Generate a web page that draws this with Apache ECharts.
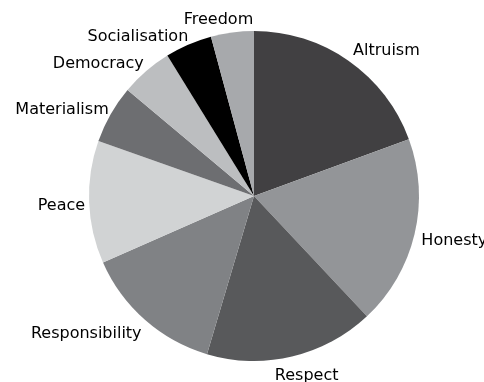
<!DOCTYPE html>
<html>
<head>
    <meta charset="utf-8">
    <title>Values pie</title>
    <script type="text/javascript" src="https://cdn.jsdelivr.net/npm/echarts@6/dist/echarts.min.js"></script>
    <style type="text/css">
        html, body { margin: 0; padding: 0; background: #fff; }
        #main { width: 484px; height: 382px; }
    </style>
</head>
<body>
<div id="main"></div>
<script type="text/javascript">
    // values (share of the whole, %)
    let categories = ['Altruism', 'Honesty', 'Respect', 'Responsibility', 'Peace',
        'Materialism', 'Democracy', 'Socialisation', 'Freedom'];
    let values = [19.4, 18.6, 16.6, 13.8, 12.0, 5.7, 5.1, 4.6, 4.2];
    let colors = ['#414042', '#939598', '#58595b', '#808285', '#d1d3d4',
        '#6d6e71', '#bcbec0', '#000000', '#a7a9ac'];

    // nudges for the labels so they sit where the original put them
    let labelShift = {
        'Altruism': [-5, -3],
        'Honesty': [-6, 5],
        'Respect': [-24, 11],
        'Responsibility': [7, 8],
        'Peace': [9, 3],
        'Materialism': [10, 0],
        'Democracy': [8, -1],
        'Socialisation': [8, 0],
        'Freedom': [27, -5]
    };

    let pieData = categories.map(function (name, i) {
        return {name: name, value: values[i], itemStyle: {color: colors[i]}};
    });

    let chart = echarts.init(document.getElementById('main'), null, {renderer: 'canvas'});
    chart.setOption({
        animation: false,
        series: [{
            type: 'pie',
            center: [254, 196],
            radius: 165,
            startAngle: 90,
            clockwise: true,
            avoidLabelOverlap: false,
            data: pieData,
            label: {
                show: true,
                position: 'outside',
                color: '#000',
                fontFamily: 'DejaVu Sans',
                fontSize: 16
            },
            labelLine: {show: false, length: 8, length2: 0},
            labelLayout: function (params) {
                let s = labelShift[categories[params.dataIndex]] || [0, 0];
                return {dx: s[0], dy: s[1], hideOverlap: false};
            }
        }]
    });
</script>
</body>
</html>
